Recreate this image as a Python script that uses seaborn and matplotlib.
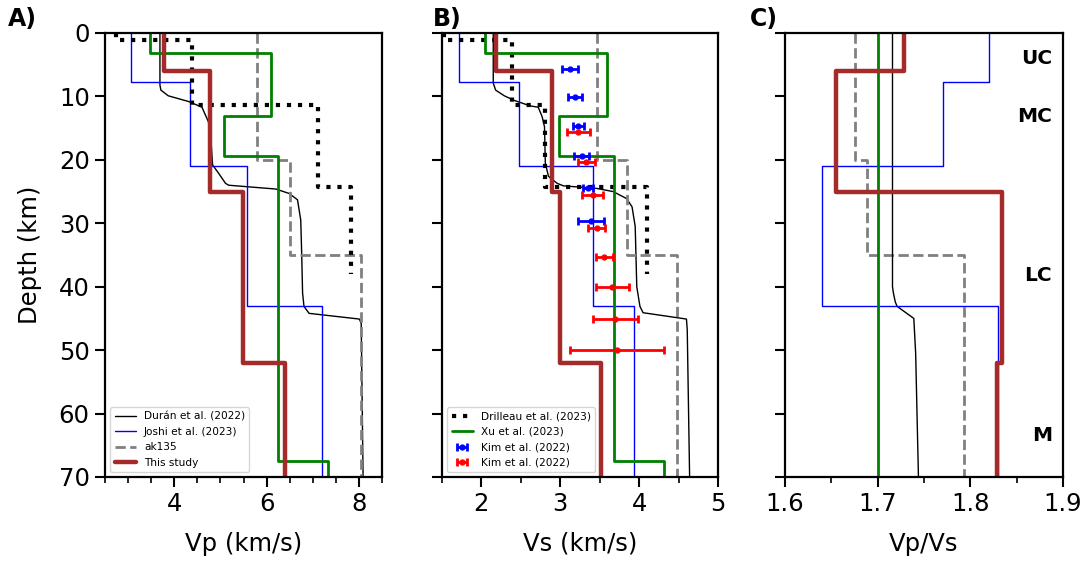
import numpy as np
import pandas as pd
import matplotlib
matplotlib.use("Agg")
import matplotlib.pyplot as plt
from matplotlib.ticker import MultipleLocator
import seaborn as sns

sns.set_style("ticks")
plt.rcParams["font.family"] = ["DejaVu Sans"]
for key in ["text.color", "axes.labelcolor", "xtick.color", "ytick.color", "axes.edgecolor"]:
    plt.rcParams[key] = "black"

##### data ####################################################################
BOTTOM = 70

# this study (layer tops in km)
this_tops = [0, 6, 25, 52]
this_vp = [3.78, 4.78, 5.49, 6.40]
this_vs = [2.19, 2.90, 3.00, 3.51]
this_vpvs = [1.728, 1.655, 1.834, 1.829]

# Joshi et al. (2023)
joshi_tops = [0, 7.8, 20.9, 43.0]
joshi_vp = [3.07, 4.34, 5.58, 7.21]
joshi_vs = [1.71, 2.48, 3.42, 3.94]
joshi_vpvs = [1.82, 1.77, 1.64, 1.83]

# ak135
ak_tops = [0, 20, 35]
ak_vp = [5.80, 6.50, 8.04]
ak_vs = [3.46, 3.85, 4.48]
ak_vpvs = [1.676, 1.688, 1.793]

# Xu et al. (2023)
xu_tops = [0, 3.2, 13.1, 19.4, 67.5]
xu_vp = [3.47, 6.09, 5.08, 6.25, 7.32]
xu_vs = [2.05, 3.59, 2.99, 3.68, 4.31]
xu_vpvs = [1.70]

# Drilleau et al. (2023), stops at 38 km
dri_tops = [0, 1.1, 11.4, 24.3]
dri_bottom = 38
dri_vp = [2.74, 4.38, 7.11, 7.82]
dri_vs = [1.53, 2.39, 2.80, 4.10]

# Duran et al. (2022) smooth profile
duran_vp_depth = [0, 8.2, 9.0, 9.9, 10.8, 11.7, 14.0, 17.4, 20.8, 22.1, 23.7, 24.0,
                  24.6, 25.3, 26.3, 29.5, 34.7, 41.0, 43.1, 44.2, 45.1, 45.8, 70]
duran_vp = [3.69, 3.69, 3.71, 3.87, 4.31, 4.60, 4.74, 4.80, 4.83, 4.96, 5.11, 5.18,
            6.20, 6.49, 6.67, 6.74, 6.76, 6.78, 6.81, 6.92, 8.01, 8.05, 8.09]
duran_vs_depth = [0, 7.9, 9.0, 9.9, 10.6, 11.5, 11.7, 13.2, 14.8, 20.5, 22.6, 23.7,
                  24.1, 24.5, 25.0, 26.1, 27.4, 30.5, 40.0, 43.1, 44.1, 45.1, 46.8, 70]
duran_vs = [2.15, 2.15, 2.18, 2.29, 2.41, 2.62, 2.72, 2.77, 2.80, 2.81, 2.85, 2.96,
            3.04, 3.46, 3.67, 3.84, 3.91, 3.95, 3.97, 4.01, 4.05, 4.60, 4.61, 4.64]
duran_vpvs_depth = [0, 40.0, 41.0, 42.4, 43.1, 45.0, 50.5, 70]
duran_vpvs = [1.716, 1.716, 1.717, 1.719, 1.721, 1.739, 1.741, 1.744]

# Kim et al. (2022) Vs estimates
kim_blue_depth = [5.6, 10.1, 14.6, 19.4, 24.4, 29.7]
kim_blue_vs = [3.12, 3.19, 3.23, 3.27, 3.35, 3.39]
kim_blue_err = [0.10, 0.09, 0.07, 0.10, 0.065, 0.17]
kim_red_depth = [15.6, 20.4, 25.5, 30.8, 35.3, 40.1, 45.1, 50.0]
kim_red_vs = [3.23, 3.33, 3.41, 3.46, 3.56, 3.66, 3.70, 3.72]
kim_red_err = [0.15, 0.105, 0.13, 0.11, 0.107, 0.21, 0.29, 0.60]

layer_labels = ["UC", "MC", "LC", "M"]
layer_label_depth = [4.0, 13.2, 38.3, 63.4]


def step_profile(tops, values, bottom=BOTTOM):
    # turn layered model into step line (value, depth) points
    depth, vel = [], []
    bounds = list(tops[1:]) + [bottom]
    if len(values) == 1:
        values = list(values) * len(tops)
    for top, bot, v in zip(tops, bounds, values):
        depth += [top, bot]
        vel += [v, v]
    return pd.DataFrame({"v": vel, "depth": depth})


def draw(ax, df, **kw):
    sns.lineplot(data=df, x="v", y="depth", sort=False, estimator=None, ax=ax, **kw)
    return ax.lines[-1]


STY = {
    "duran": dict(color="black", linewidth=1.0),
    "joshi": dict(color="blue", linewidth=1.0),
    "ak": dict(color="gray", linewidth=2.0, linestyle="--"),
    "this": dict(color="#a52a2a", linewidth=3.2),
    "xu": dict(color="green", linewidth=2.0),
    "dri": dict(color="black", linewidth=3.0, linestyle=":"),
}
LABEL_FS = 17.5
TICK_FS = 17.5
LEG_FS = 7.6

fig = plt.figure(figsize=(10.92, 5.66), dpi=100)
W, H = 1092, 566
top_px, bot_px = 33, 477
axA = fig.add_axes([105 / W, 1 - bot_px / H, 277 / W, (bot_px - top_px) / H])
axB = fig.add_axes([442 / W, 1 - bot_px / H, 276 / W, (bot_px - top_px) / H])
axC = fig.add_axes([785 / W, 1 - bot_px / H, 278 / W, (bot_px - top_px) / H])

##### A) Vp ###################################################################
hA = []
hA.append(draw(axA, pd.DataFrame({"v": duran_vp, "depth": duran_vp_depth}), **STY["duran"]))
hA.append(draw(axA, step_profile(joshi_tops, joshi_vp), **STY["joshi"]))
hA.append(draw(axA, step_profile(ak_tops, ak_vp), **STY["ak"]))
draw(axA, step_profile(xu_tops, xu_vp), **STY["xu"])
draw(axA, step_profile(dri_tops, dri_vp, dri_bottom), **STY["dri"])
hA.append(draw(axA, step_profile(this_tops, this_vp), **STY["this"]))
axA.legend(hA, ["Durán et al. (2022)", "Joshi et al. (2023)", "ak135", "This study"],
           loc="lower left", fontsize=LEG_FS)
axA.set_xlim(2.5, 8.5)
axA.xaxis.set_major_locator(MultipleLocator(2))
axA.xaxis.set_minor_locator(MultipleLocator(0.5))
axA.set_xlabel("Vp (km/s)", fontsize=LABEL_FS, labelpad=11)
axA.set_ylabel("Depth (km)", fontsize=LABEL_FS, labelpad=12)

##### B) Vs ###################################################################
draw(axB, pd.DataFrame({"v": duran_vs, "depth": duran_vs_depth}), **STY["duran"])
draw(axB, step_profile(joshi_tops, joshi_vs), **STY["joshi"])
draw(axB, step_profile(ak_tops, ak_vs), **STY["ak"])
hB = []
hB.append(draw(axB, step_profile(dri_tops, dri_vs, dri_bottom), **STY["dri"]))
hB.append(draw(axB, step_profile(xu_tops, xu_vs), **STY["xu"]))
draw(axB, step_profile(this_tops, this_vs), **STY["this"])
eb1 = axB.errorbar(kim_blue_vs, kim_blue_depth, xerr=kim_blue_err, fmt="o", color="blue",
                   markersize=3.5, elinewidth=2, capsize=3, capthick=2, zorder=5)
eb2 = axB.errorbar(kim_red_vs, kim_red_depth, xerr=kim_red_err, fmt="o", color="red",
                   markersize=3.5, elinewidth=2, capsize=3, capthick=2, zorder=5)
hB += [eb1, eb2]
axB.legend(hB, ["Drilleau et al. (2023)", "Xu et al. (2023)", "Kim et al. (2022)",
                "Kim et al. (2022)"], loc="lower left", fontsize=LEG_FS)
axB.set_xlim(1.5, 5)
axB.xaxis.set_major_locator(MultipleLocator(1))
axB.xaxis.set_minor_locator(MultipleLocator(0.5))
axB.set_xlabel("Vs (km/s)", fontsize=LABEL_FS, labelpad=11)
axB.set_ylabel("")

##### C) Vp/Vs ################################################################
draw(axC, step_profile(ak_tops, ak_vpvs), **STY["ak"])
draw(axC, pd.DataFrame({"v": duran_vpvs, "depth": duran_vpvs_depth}), **STY["duran"])
draw(axC, step_profile(joshi_tops, joshi_vpvs), **STY["joshi"])
draw(axC, step_profile([0], xu_vpvs), **STY["xu"])
draw(axC, step_profile(this_tops, this_vpvs), **STY["this"])
for lab, d in zip(layer_labels, layer_label_depth):
    axC.text(1.888, d, lab, ha="right", va="center", fontsize=14.5, fontweight="bold")
axC.set_xlim(1.6, 1.9)
axC.xaxis.set_major_locator(MultipleLocator(0.1))
axC.xaxis.set_minor_locator(MultipleLocator(0.05))
axC.set_xlabel("Vp/Vs", fontsize=LABEL_FS, labelpad=11)
axC.set_ylabel("")

for ax in (axA, axB, axC):
    ax.set_ylim(BOTTOM, 0)
    ax.yaxis.set_major_locator(MultipleLocator(10))
    for s in ax.spines.values():
        s.set_linewidth(1.6)
    ax.tick_params(which="major", length=7, width=1.5, labelsize=TICK_FS, pad=4)
    ax.tick_params(which="minor", length=4, width=1.2)
axB.set_yticklabels([])
axC.set_yticklabels([])

for lab, xpx in zip(["A)", "B)", "C)"], [8, 433, 750]):
    fig.text(xpx / W, 1 - 7 / H, lab, fontsize=17, fontweight="bold", va="top", ha="left")

fig.savefig("out.png", dpi=100)
